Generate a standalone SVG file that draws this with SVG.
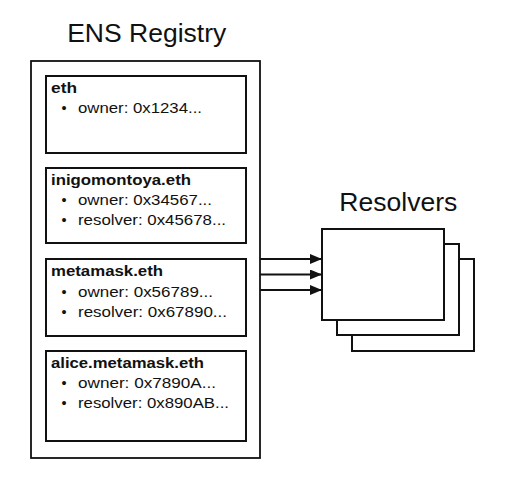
<svg xmlns="http://www.w3.org/2000/svg" width="511" height="477" viewBox="0 0 511 477">
<defs>
<marker id="arr" viewBox="0 0 12 10" refX="12" refY="5" markerWidth="12" markerHeight="10" markerUnits="userSpaceOnUse" orient="auto">
<path d="M0,0 L12,5 L0,10 Z" fill="#111"/>
</marker>
<style>
.box{fill:#fff;stroke:#111;stroke-width:2}
.outer{fill:#fff;stroke:#111;stroke-width:1.8}
.title{font-family:"Liberation Sans",Arial,sans-serif;fill:#111;text-anchor:middle}
.name{font-family:"Liberation Sans",Arial,sans-serif;font-weight:bold;font-size:14.5px;fill:#111}
.item{font-family:"Liberation Sans",Arial,sans-serif;font-size:14.5px;fill:#111}
.bul{font-family:"Liberation Sans",Arial,sans-serif;font-size:14.5px;fill:#111;text-anchor:middle}
.conn{stroke:#111;stroke-width:2;fill:none}
</style>
</defs>
<rect width="511" height="477" fill="#fff"/>

<g id="registry">
<text class="title" x="146.7" y="42.3" font-size="26.5">ENS Registry</text>
<rect class="outer" x="31" y="61" width="229" height="397"/>
</g>

<g id="node-eth">
<rect class="box" x="46" y="76" width="200" height="77"/>
<text class="name" x="51" y="93" textLength="26" lengthAdjust="spacingAndGlyphs">eth</text>
<text class="bul" x="64" y="113">•</text>
<text class="item" x="78" y="113" textLength="124" lengthAdjust="spacingAndGlyphs">owner: 0x1234...</text>
</g>

<g id="node-inigomontoya">
<rect class="box" x="46" y="168" width="200" height="75"/>
<text class="name" x="51" y="185" textLength="140" lengthAdjust="spacingAndGlyphs">inigomontoya.eth</text>
<text class="bul" x="64" y="205">•</text>
<text class="item" x="78" y="205" textLength="134" lengthAdjust="spacingAndGlyphs">owner: 0x34567...</text>
<text class="bul" x="64" y="225">•</text>
<text class="item" x="78" y="225" textLength="148" lengthAdjust="spacingAndGlyphs">resolver: 0x45678...</text>
</g>

<g id="node-metamask">
<rect class="box" x="46" y="259" width="200" height="77"/>
<text class="name" x="51" y="276" textLength="112" lengthAdjust="spacingAndGlyphs">metamask.eth</text>
<text class="bul" x="64" y="297">•</text>
<text class="item" x="78" y="297" textLength="135" lengthAdjust="spacingAndGlyphs">owner: 0x56789...</text>
<text class="bul" x="64" y="317">•</text>
<text class="item" x="78" y="317" textLength="149" lengthAdjust="spacingAndGlyphs">resolver: 0x67890...</text>
</g>

<g id="node-alice">
<rect class="box" x="46" y="351" width="200" height="90"/>
<text class="name" x="51" y="368" textLength="153" lengthAdjust="spacingAndGlyphs">alice.metamask.eth</text>
<text class="bul" x="64" y="388">•</text>
<text class="item" x="78" y="388" textLength="138" lengthAdjust="spacingAndGlyphs">owner: 0x7890A...</text>
<text class="bul" x="64" y="408">•</text>
<text class="item" x="78" y="408" textLength="151" lengthAdjust="spacingAndGlyphs">resolver: 0x890AB...</text>
</g>

<g id="resolvers">
<text class="title" x="398.3" y="211" font-size="25" textLength="118" lengthAdjust="spacingAndGlyphs">Resolvers</text>
<rect class="box" x="352" y="259" width="122" height="92"/>
<rect class="box" x="337" y="244" width="122" height="91"/>
<rect class="box" x="322" y="229" width="122" height="91"/>
</g>

<g id="connectors">
<line class="conn" x1="260" y1="259" x2="322" y2="259" marker-end="url(#arr)"/>
<line class="conn" x1="260" y1="274.5" x2="322" y2="274.5" marker-end="url(#arr)"/>
<line class="conn" x1="260" y1="290" x2="322" y2="290" marker-end="url(#arr)"/>
</g>
</svg>
